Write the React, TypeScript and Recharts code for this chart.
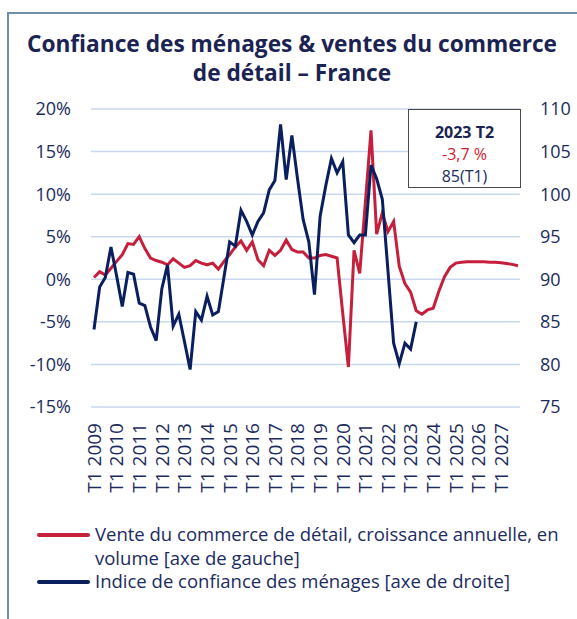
import { LineChart, Line, XAxis, YAxis, CartesianGrid } from "recharts"

const years = [2009, 2010, 2011, 2012, 2013, 2014, 2015, 2016, 2017, 2018, 2019, 2020, 2021, 2022, 2023, 2024, 2025, 2026, 2027]
const quarters = ["T1", "T2", "T3", "T4"]
const periods = years.flatMap((y) => quarters.map((q) => `${q} ${y}`))

// Vente du commerce de détail, croissance annuelle (%), axe de gauche
const retailSales = [
  0.2, 0.9, 0.5, 1.3, 2.1, 2.9, 4.2, 4.1, 5.0, 3.6, 2.5, 2.2, 2.0, 1.7, 2.4, 1.9,
  1.4, 1.6, 2.2, 1.9, 1.7, 1.9, 1.2, 2.1, 2.9, 3.8, 4.5, 3.4, 4.4, 2.3, 1.6, 3.4,
  2.8, 3.4, 4.6, 3.5, 3.2, 3.2, 2.5, 2.5, 2.8, 2.9, 2.7, 2.5, -4.0, -10.3, 3.4, 0.7,
  9.0, 17.5, 5.3, 7.8, 5.6, 6.8, 1.5, -0.5, -1.5, -3.7, -4.1, -3.6, -3.4, -1.4, 0.3, 1.4,
  1.9, 2.0, 2.05, 2.05, 2.05, 2.05, 2.0, 2.0, 1.95, 1.85, 1.75, 1.6,
]

// Indice de confiance des ménages, axe de droite
const confidence = [
  84.1, 89.1, 90.2, 93.8, 90.4, 86.8, 90.8, 90.6, 87.2, 86.9, 84.4, 82.8, 88.9, 91.7, 84.5, 85.9,
  82.7, 79.4, 86.2, 85.2, 88.0, 85.8, 86.2, 90.3, 94.4, 93.9, 98.1, 96.8, 95.2, 96.8, 97.8, 100.5,
  101.6, 108.2, 101.7, 106.9, 101.8, 97.0, 94.4, 88.2, 97.4, 101.0, 104.2, 102.5, 103.8, 95.2, 94.3, 95.2,
  95.2, 103.4, 101.8, 99.4, 91.0, 82.5, 80.1, 82.5, 81.8, 85.0,
]

const leftTicks = [-15, -10, -5, 0, 5, 10, 15, 20]
const rightTicks = [75, 80, 85, 90, 95, 100, 105, 110]

const data = periods.map((p, i) => ({
  period: p,
  ventes: retailSales[i],
  confiance: i < confidence.length ? confidence[i] : null,
}))

const RED = "#c61f3c"
const NAVY = "#0b1f5e"
const TEXT = "#1c2b5e"

function RotatedTick({ x, y, payload }: any) {
  return (
    <text
      x={x}
      y={y}
      transform={`rotate(-90 ${x} ${y})`}
      textAnchor="end"
      dy="0.36em"
      fill={TEXT}
      fontSize={19}
    >
      {payload.value}
    </text>
  )
}

export default function App() {
  return (
    <div
      style={{
        position: "absolute",
        left: 0,
        top: 0,
        width: 577,
        height: 619,
        background: "#fff",
        fontFamily: "'Open Sans', sans-serif",
        overflow: "hidden",
      }}
    >
      {/* frame */}
      <div
        style={{
          position: "absolute",
          left: 7,
          top: 12,
          width: 600,
          height: 640,
          borderTop: "2px solid #6f8ea8",
          borderLeft: "2px solid #6f8ea8",
        }}
      />

      <div
        style={{
          position: "absolute",
          left: 0,
          top: 29,
          width: 584,
          textAlign: "center",
          fontSize: 22.7,
          fontWeight: 700,
          lineHeight: "29px",
          color: "#1a2352",
        }}
      >
        Confiance des ménages &amp; ventes du commerce
        <br />
        de détail – France
      </div>

      <div style={{ position: "absolute", left: 0, top: 0 }}>
        <LineChart width={577} height={500} data={data} margin={{ top: 109, right: 0, bottom: 0, left: 0 }}>
          <CartesianGrid yAxisId="left" vertical={false} stroke="#c8d9ef" strokeWidth={1.5} />
          <XAxis
            dataKey="period"
            interval={3}
            axisLine={false}
            tickLine={false}
            tickSize={0}
            tickMargin={16}
            height={93}
            padding={{ left: 3, right: 2 }}
            tick={<RotatedTick />}
          />
          <YAxis
            yAxisId="left"
            domain={[-15, 20]}
            ticks={leftTicks}
            tickFormatter={(v) => `${v}%`}
            width={91}
            axisLine={false}
            tickLine={false}
            tickSize={0}
            tickMargin={20}
            tick={{ fill: TEXT, fontSize: 18 }}
          />
          <YAxis
            yAxisId="right"
            orientation="right"
            domain={[75, 110]}
            ticks={rightTicks}
            width={57}
            axisLine={false}
            tickLine={false}
            tickSize={0}
            tickMargin={20}
            tick={{ fill: TEXT, fontSize: 18 }}
          />
          <Line
            yAxisId="left"
            type="linear"
            dataKey="ventes"
            stroke={RED}
            strokeWidth={3}
            dot={false}
            isAnimationActive={false}
          />
          <Line
            yAxisId="right"
            type="linear"
            dataKey="confiance"
            stroke={NAVY}
            strokeWidth={3}
            dot={false}
            isAnimationActive={false}
          />
        </LineChart>
      </div>

      {/* annotation */}
      <div
        style={{
          position: "absolute",
          left: 408,
          top: 109,
          width: 113,
          height: 79,
          border: "1px solid #4a4a4a",
          background: "#fff",
          textAlign: "center",
          fontSize: 16,
          lineHeight: "22px",
          paddingTop: 11,
          boxSizing: "border-box",
          color: TEXT,
        }}
      >
        <div style={{ fontWeight: 700, color: "#1a2352" }}>2023 T2</div>
        <div style={{ color: "#d0202e" }}>-3,7 %</div>
        <div>85(T1)</div>
      </div>

      {/* legend */}
      <div style={{ position: "absolute", left: 37, top: 522, width: 540, fontSize: 18.5, lineHeight: "23.5px", color: TEXT }}>
        <div style={{ display: "flex", alignItems: "flex-start" }}>
          <div style={{ width: 53, height: 4, background: RED, marginTop: 11, marginRight: 5, flexShrink: 0, borderRadius: 2 }} />
          <div>Vente du commerce de détail, croissance annuelle, en volume [axe de gauche]</div>
        </div>
        <div style={{ display: "flex", alignItems: "flex-start" }}>
          <div style={{ width: 53, height: 4, background: NAVY, marginTop: 11, marginRight: 5, flexShrink: 0, borderRadius: 2 }} />
          <div>Indice de confiance des ménages [axe de droite]</div>
        </div>
      </div>
    </div>
  )
}
